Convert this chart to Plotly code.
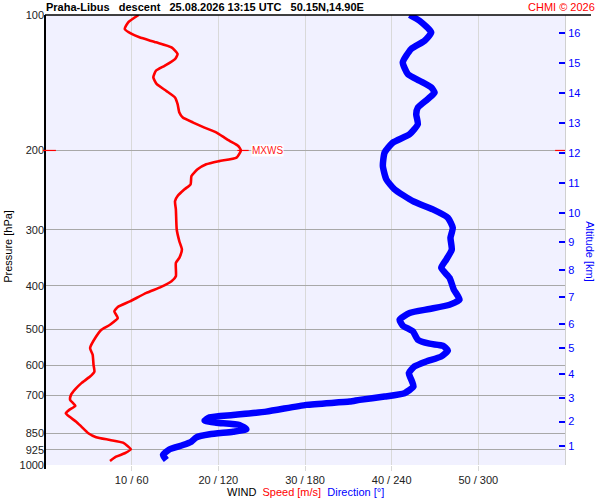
import plotly.graph_objects as go

# ---- data ----
speed_p = [100, 103.8, 107.4, 110.2, 112.1, 115.0, 118.0, 122.1, 125.3, 129.7, 133.0, 137.6,
           142.5, 147.5, 152.5, 157.8, 164.7, 169.0, 173.4, 177.9, 182.5, 187.3, 190.5, 195.5,
           200.0, 207.5, 211.2, 214.7, 220.3, 228.0, 237.8, 244.0, 252.6, 259.2, 270.4, 299.7,
           318.2, 332.0, 346.5, 355.5, 380.7, 390.6, 402.0, 414.6, 432.8, 445.5, 455.7, 471.4,
           487.8, 500.5, 518.1, 549.7, 568.9, 598.9, 619.8, 636.0, 657.7, 678.4, 698.5, 716.6,
           738.9, 754.3, 767.3, 780.6, 801.0, 821.7, 850.0, 867.6, 879.7, 892.0, 922.6, 941.7,
           958.3, 979.7]
speed_ms = [10.8, 9.6, 9.2, 10.0, 10.9, 12.8, 14.6, 15.3, 15.0, 13.8, 12.8, 12.5,
            12.9, 14.0, 15.0, 15.3, 15.5, 15.9, 17.1, 18.4, 19.8, 20.7, 21.3, 22.3,
            22.6, 22.1, 20.1, 18.6, 17.6, 16.9, 16.8, 16.1, 15.3, 15.0, 15.1, 15.2,
            15.5, 15.8, 15.5, 15.1, 15.1, 14.6, 13.4, 11.7, 9.8, 8.4, 8.0, 8.4,
            7.5, 6.5, 5.9, 5.2, 5.5, 5.6, 5.7, 5.2, 4.2, 3.5, 3.0, 2.9,
            3.5, 2.8, 2.4, 2.8, 3.6, 4.2, 5.0, 5.9, 7.5, 9.0, 9.9, 9.2,
            8.2, 7.5]

dir_p = [100, 103.0, 109.3, 114.1, 119.0, 127.4, 135.3, 140.0, 144.9, 148.7, 153.8, 160.6,
         166.2, 174.9, 184.1, 192.1, 202.2, 216.6, 231.9, 244.0, 259.2, 270.4, 282.2, 297.1,
         312.7, 332.0, 349.5, 364.7, 383.9, 407.5, 429.1, 440.3, 450.0, 459.3, 475.4, 490.2,
         504.8, 526.7, 537.6, 543.3, 556.4, 573.8, 588.7, 604.0, 624.9, 652.4, 669.4, 692.4,
         704.6, 716.6, 722.8, 735.2, 760.9, 774.0, 783.3, 797.0, 805.3, 814.8, 833.0, 843.2,
         854.5, 867.8, 887.6, 902.8, 922.6, 950.0, 974.8]
dir_deg = [252.4, 259.3, 267.4, 262.8, 253.5, 247.7, 251.2, 259.3, 267.4, 269.7, 265.0, 258.1,
           257.0, 258.1, 252.4, 240.8, 235.1, 233.9, 236.3, 242.0, 254.7, 268.5, 278.9, 282.3,
           280.7, 281.6, 277.8, 274.3, 280.1, 283.0, 287.0, 280.1, 266.2, 252.4, 245.5, 247.7,
           254.7, 258.1, 266.2, 275.4, 278.9, 274.3, 263.9, 255.8, 251.9, 254.1, 255.1, 248.9,
           235.1, 217.8, 210.9, 180.9, 153.2, 130.1, 114.0, 110.5, 118.6, 134.7, 139.4, 130.1,
           114.0, 104.8, 101.3, 95.5, 86.3, 81.7, 84.0]

pressure_ticks = [100, 200, 300, 400, 500, 600, 700, 850, 925, 1000]
speed_ticks = [10, 20, 30, 40, 50]
speed_tick_text = ["10 / 60", "20 / 120", "30 / 180", "40 / 240", "50 / 300"]
altitude_km = list(range(1, 17))
altitude_p = [907.1, 800.7, 710.1, 627.0, 549.7, 485.3, 423.2, 369.3, 319.8, 276.1,
              236.7, 202.9, 174.0, 149.2, 127.9, 109.7]

title_text = "Praha-Libus  &nbsp;descent  &nbsp;25.08.2026 13:15 UTC  &nbsp;50.15N,14.90E"
FONT = "Liberation Sans, Arial, sans-serif"

fig = go.Figure()
fig.add_trace(go.Scatter(x=dir_deg, y=dir_p, mode="lines", xaxis="x2", yaxis="y",
                         line=dict(color="#0000ff", width=6.5, shape="spline", smoothing=0.5),
                         hoverinfo="skip", showlegend=False))
fig.add_trace(go.Scatter(x=speed_ms, y=speed_p, mode="lines", xaxis="x", yaxis="y",
                         line=dict(color="#ff0000", width=2.6, shape="spline", smoothing=0.5),
                         hoverinfo="skip", showlegend=False))
# invisible trace to activate the altitude axis
fig.add_trace(go.Scatter(x=[None], y=[None], xaxis="x", yaxis="y2", showlegend=False,
                         hoverinfo="skip"))

fig.update_layout(
    width=600, height=500,
    margin=dict(l=45, r=35, t=15, b=35),
    paper_bgcolor="white", plot_bgcolor="#f1f1ff",
    font=dict(family=FONT, size=11, color="#222222"),
    xaxis=dict(range=[0, 60], tickvals=speed_ticks, ticktext=speed_tick_text,
               showgrid=True, gridcolor="#d9d9d9", gridwidth=1, zeroline=False,
               ticks="outside", ticklen=5, tickcolor="#d9d9d9", showline=False,
               automargin=False, tickfont=dict(size=11, color="#222222")),
    xaxis2=dict(range=[0, 360], overlaying="x", visible=False),
    yaxis=dict(type="log", range=[3, 2], tickvals=pressure_ticks,
               ticktext=[str(v) for v in pressure_ticks],
               showgrid=True, gridcolor="#a8a8a8", gridwidth=1.2, zeroline=False,
               ticks="", showline=False, automargin=False,
               tickfont=dict(size=11, color="#222222")),
    yaxis2=dict(type="log", range=[3, 2], overlaying="y", side="right",
                tickvals=altitude_p, ticktext=[str(k) for k in altitude_km],
                ticks="inside", ticklen=6, tickcolor="#0000ff", tickwidth=1.5,
                showgrid=False, zeroline=False, showline=True, linecolor="#d0d0d0",
                automargin=False, tickfont=dict(size=11, color="#0000ff")),
)

# borders
fig.add_shape(type="line", xref="paper", yref="paper", x0=0, x1=0, y0=-0.009, y1=1,
              line=dict(color="black", width=2))
fig.add_shape(type="line", xref="paper", yref="paper", x0=0, x1=1.05, y0=1, y1=1,
              line=dict(color="black", width=1.5))

# MXWS marker
imax = max(range(len(speed_ms)), key=lambda i: speed_ms[i])
p_max = speed_p[imax]
v_max = speed_ms[imax]
fig.add_shape(type="line", xref="paper", yref="y", x0=-0.004, x1=0.021, y0=p_max, y1=p_max,
              line=dict(color="#ff0000", width=1.2))
fig.add_shape(type="line", xref="paper", yref="y", x0=0.981, x1=1.0, y0=p_max, y1=p_max,
              line=dict(color="#ff0000", width=1.2))
fig.add_shape(type="line", xref="x", yref="y", x0=v_max - 0.4, x1=v_max + 0.9,
              y0=p_max, y1=p_max, line=dict(color="#ff0000", width=1.2))
fig.add_annotation(x=v_max + 1.2, y=2.301, xref="x", yref="y", text="MXWS",
                   showarrow=False, xanchor="left", yanchor="middle",
                   font=dict(size=10, color="#ff2020"), bgcolor="white", borderpad=0)

# texts
fig.add_annotation(x=-0.002, y=1.017, xref="paper", yref="paper", text="<b>" + title_text + "</b>",
                   showarrow=False, xanchor="left", yanchor="middle",
                   font=dict(size=11, color="black"))
fig.add_annotation(x=1.0615, y=1.017, xref="paper", yref="paper", text="CHMI © 2026",
                   showarrow=False, xanchor="right", yanchor="middle",
                   font=dict(size=11, color="#ff0000"))
fig.add_annotation(x=0.346, y=-0.06, xref="paper", yref="paper",
                   text="WIND  <span style='color:#ff0000'>Speed [m/s]</span>  "
                        "<span style='color:#0000ff'>Direction [°]</span>",
                   showarrow=False, xanchor="left", yanchor="middle",
                   font=dict(size=11, color="black"))
fig.add_annotation(x=-0.071, y=0.485, xref="paper", yref="paper", text="Pressure [hPa]",
                   showarrow=False, textangle=-90, xanchor="center", yanchor="middle",
                   font=dict(size=11, color="black"))
fig.add_annotation(x=1.048, y=0.473, xref="paper", yref="paper", text="Altitude [km]",
                   showarrow=False, textangle=90, xanchor="center", yanchor="middle",
                   font=dict(size=11, color="#0000ff"))

fig.write_html("out.html", config={"displayModeBar": False},
               post_script="document.body.style.margin='0';document.body.style.overflow='hidden';")
